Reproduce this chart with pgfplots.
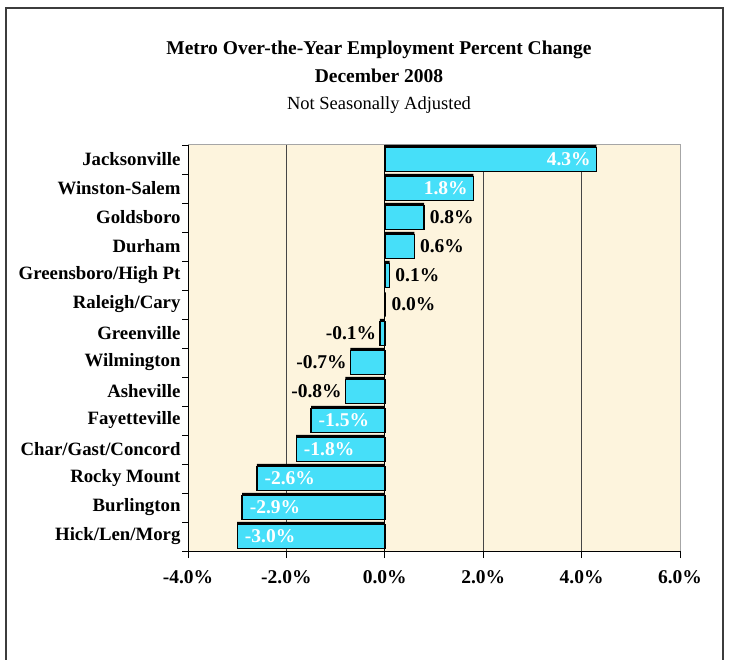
\documentclass[border=0pt]{standalone}
\usepackage{fontspec}
\setmainfont{Liberation Serif}
\usepackage{pgfplots}
\usepackage{pgfplotstable}
\pgfplotsset{compat=1.18}

\definecolor{barcyan}{RGB}{70,223,249}
\definecolor{plotbg}{RGB}{253,244,221}
\definecolor{gridgray}{RGB}{70,70,70}
\definecolor{framegray}{RGB}{60,60,60}

% y = row from the bottom, x = percent change
% ang = label anchor angle (180 west, 0 east), blk = 100 black / 0 white, xs = shift in pt
\pgfplotstableread{
y x ang blk xs
0 -3.0 180 0 7
1 -2.9 180 0 7
2 -2.6 180 0 7
3 -1.8 180 0 7
4 -1.5 180 0 7
5 -0.8 0 100 -3
6 -0.7 0 100 -3
7 -0.1 0 100 -3
8 0.0 180 100 6
9 0.1 180 100 5
10 0.6 180 100 5
11 0.8 180 100 5
12 1.8 0 0 -5
13 4.3 0 0 -5
}\metro

\begin{document}
\begin{tikzpicture}
\useasboundingbox (0,0) rectangle (733pt,659pt);
\draw[framegray, line width=2pt] (6pt,-2pt) -- (6pt,651pt) -- (723pt,651pt) -- (723pt,-2pt);

\node[font=\fontsize{19.5}{22}\selectfont\bfseries] at (379pt,609pt) {Metro Over-the-Year Employment Percent Change};
\node[font=\fontsize{19.5}{22}\selectfont\bfseries] at (379pt,583pt) {December 2008};
\node[font=\fontsize{18.5}{22}\selectfont] at (379pt,554pt) {Not Seasonally Adjusted};

\begin{axis}[
  at={(188pt,108pt)}, anchor=south west,
  width=492pt, height=406pt, scale only axis,
  xmin=-4, xmax=6, ymin=-0.5, ymax=13.5,
  axis background/.style={fill=plotbg},
  axis x line*=bottom, axis y line*=left,
  axis line style={black, line width=1pt},
  xtick={-4,-2,0,2,4,6},
  xticklabels={-4.0\%,-2.0\%,0.0\%,2.0\%,4.0\%,6.0\%},
  xticklabel style={font=\fontsize{19.5}{22}\selectfont\bfseries, yshift=-9pt},
  ytick={0,...,13},
  yticklabels={Hick/Len/Morg,Burlington,Rocky Mount,Char/Gast/Concord,Fayetteville,Asheville,Wilmington,Greenville,Raleigh/Cary,Greensboro/High Pt,Durham,Goldsboro,Winston-Salem,Jacksonville},
  yticklabel style={font=\fontsize{18.8}{21}\selectfont\bfseries, anchor=east, xshift=3pt},
  minor ytick={-0.5,0.5,...,13.5},
  major y tick style={draw=none},
  tick align=outside,
  major tick length=7pt, minor tick length=6pt,
  tick style={black, line width=0.8pt},
  xmajorgrids, grid style={gridgray, line width=0.8pt},
  clip=false,
]
\draw[gray!70, line width=1pt] (rel axis cs:0,1) -- (rel axis cs:1,1) -- (rel axis cs:1,0);
\draw[black, line width=1pt] (axis cs:0,-0.5) -- (axis cs:0,13.5);

\addplot[xbar, bar width=0.83, bar shift=2.5pt, fill=black, draw=none]
  table[x=x, y=y] {\metro};
\addplot[xbar, bar width=0.83, bar shift=0pt, fill=barcyan, draw=black, line width=1.4pt,
  point meta=x,
  visualization depends on={\thisrow{ang} \as \lblang},
  visualization depends on={\thisrow{blk} \as \lblblk},
  visualization depends on={\thisrow{xs} \as \lblxs},
  nodes near coords={\pgfmathprintnumber[fixed, fixed zerofill, precision=1, assume math mode=true]{\pgfplotspointmeta}\%},
  nodes near coords style={anchor=\lblang, text=black!\lblblk, xshift=\lblxs pt, inner sep=0pt,
    font=\fontsize{19.5}{22}\selectfont\bfseries},
  ]
  table[x=x, y=y] {\metro};
\end{axis}
\end{tikzpicture}
\end{document}
